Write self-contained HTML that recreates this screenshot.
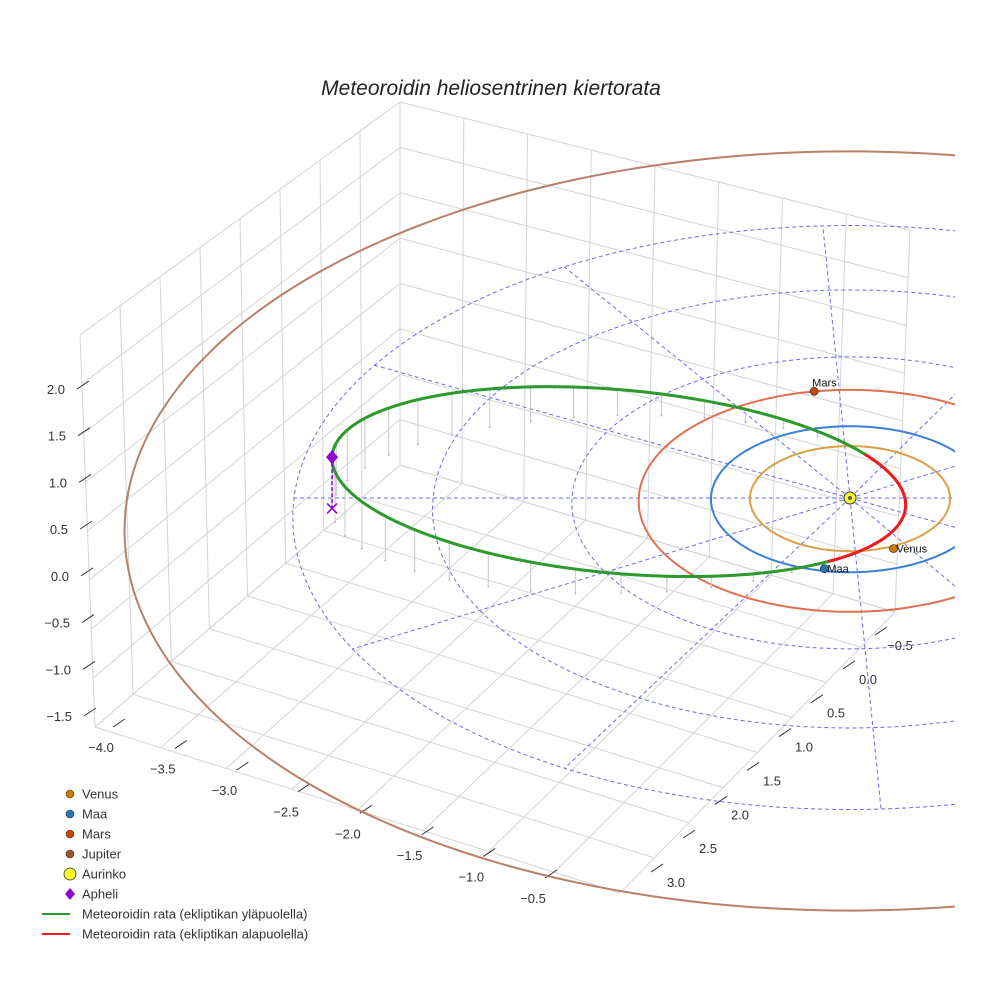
<!DOCTYPE html>
<html><head><meta charset="utf-8"><style>
body{margin:0;background:#fff;}
svg{display:block;font-family:"Liberation Sans",sans-serif;}
</style></head><body>
<svg id="chart" width="984" height="984" viewBox="0 0 984 984" xmlns="http://www.w3.org/2000/svg">
<defs><clipPath id="clip"><rect x="0" y="0" width="955" height="984"/></clipPath></defs>
<rect width="984" height="984" fill="#fff"/>
<text x="491" y="95" text-anchor="middle" font-size="21" font-style="italic" fill="#222">Meteoroidin heliosentrinen kiertorata</text>
<g id="box"></g>
<g id="ticks"></g>
<g id="plot" clip-path="url(#clip)"></g>
<g id="legend"></g>
</svg>
<script>
// ---- data ----
const planetNames = ["Venus","Maa","Mars","Jupiter"];
const planetRadii = [0.72, 1.0, 1.52, 5.2];
const planetX = [0.63, 0.36, -1.03, null];
const planetY = [0.41, 0.90, -1.12, null];
const gridRadii = [1, 2, 3, 4];
const spokeAnglesDeg = [0,28,58,87,119,150,180,208,237,267,298,330];
const meteorPerihelion = [0.4];
const meteorAphelion = [3.72];
const meteorSemiMinor = [1.22];
const meteorTiltU = [0.145];
const meteorTiltV = [-0.03];
const meteorRotDeg = [-2.2];
const xTicks = [-4.0,-3.5,-3.0,-2.5,-2.0,-1.5,-1.0,-0.5];
const yTicks = [-0.5,0.0,0.5,1.0,1.5,2.0,2.5,3.0];
const zTicks = [2.0,1.5,1.0,0.5,0.0,-0.5,-1.0,-1.5];

// ---- projection ----
const NS="http://www.w3.org/2000/svg";
const CX=850, CY=498, A=139, B=73, K=95, PHI=32.6*Math.PI/180, PERSP=0.0167;
const cP=Math.cos(PHI), sP=Math.sin(PHI);
function projUV(u,v,z){
  const s=1+PERSP*v;
  return [CX + A*u*s, CY + (B*v - K*z)*s];
}
function proj(x,y,z){
  const u=x*cP - y*sP, v=x*sP + y*cP;
  return projUV(u,v,z);
}
function fromUV(u,v){return [u*cP+v*sP, -u*sP+v*cP];}
function el(tag,attrs,parent){const e=document.createElementNS(NS,tag);for(const k in attrs)e.setAttribute(k,attrs[k]);parent.appendChild(e);return e;}
function pathFrom(pts){return pts.map((p,i)=>(i?'L':'M')+p[0].toFixed(1)+' '+p[1].toFixed(1)).join(' ');}

// ---- box (perspective walls) ----
const box=document.getElementById('box');
function lerp(a,b,t){return [a[0]+(b[0]-a[0])*t,a[1]+(b[1]-a[1])*t];}
function quadGrid(c,nu,nv){
  for(let i=0;i<=nu;i++){const t=i/nu;const a=lerp(c[0],c[1],t),b=lerp(c[3],c[2],t);
    const l=el('line',{x1:a[0],y1:a[1],x2:b[0],y2:b[1],stroke:'#d4d4d4','stroke-width':1},box);
    
    }
  for(let j=0;j<=nv;j++){const t=j/nv;const a=lerp(c[0],c[3],t),b=lerp(c[1],c[2],t);
    const l=el('line',{x1:a[0],y1:a[1],x2:b[0],y2:b[1],stroke:'#d4d4d4','stroke-width':1},box);
    
    }
}
const LTF=[80,335],LTB=[400,102],LBB=[400,465],LBF=[95,727],RTB=[910,230],RBB=[895,612],FR=[620,893];
quadGrid([LTF,LTB,LBB,LBF],8,8);
quadGrid([LTB,RTB,RBB,LBB],8,8);
quadGrid([LBF,LBB,RBB,FR],8,8);

// ---- ticks ----
const tk=document.getElementById('ticks');
function tickLabels(vals,p0,p1,dx,dy,anchor,name){
  vals.forEach((v,i)=>{const t=(v-vals[0])/(vals[vals.length-1]-vals[0]);const p=lerp(p0,p1,t);
    const tx=el('text',{x:p[0],y:p[1],'font-size':13,fill:'#333','text-anchor':anchor},tk);
    
    
    tx.textContent=(v<0?'\u2212':'')+Math.abs(v).toFixed(1);
    const ln=el('line',{x1:p[0]+dx,y1:p[1]-5+dy,x2:p[0]+dx+12,y2:p[1]-5+dy-8,stroke:'#333','stroke-width':1},tk);
    
    
  });
}
tickLabels(xTicks,[101,752],[533,903],12,-20,'middle','x-tick-label');
tickLabels(yTicks,[900,650],[676,887],-25,-10,'middle','y-tick-label');
tickLabels(zTicks,[65,394],[72,721],12,0,'end','z-tick-label');

// ---- plot ----
const plot=document.getElementById('plot');
gridRadii.forEach(r=>{const pts=[];for(let k=0;k<=200;k++){const a=k/200*2*Math.PI;pts.push(proj(r*Math.cos(a),r*Math.sin(a),0));}
  const p=el('path',{d:pathFrom(pts),fill:'none',stroke:'#6a6af0','stroke-width':1,'stroke-dasharray':'4 3'},plot);
  
  });
spokeAnglesDeg.forEach(d=>{const a=d*Math.PI/180;const q=projUV(4*Math.cos(a),4*Math.sin(a),0),o=projUV(0,0,0);
  const l=el('line',{x1:o[0],y1:o[1],x2:q[0],y2:q[1],stroke:'#6a6af0','stroke-width':1,'stroke-dasharray':'4 3'},plot);
  
  });
const orbitColors=['#d9a048','#3a7fd8','#e07050','#b88068'];
planetRadii.forEach((r,i)=>{const pts=[];for(let k=0;k<=240;k++){const a=k/240*2*Math.PI;pts.push(proj(r*Math.cos(a),r*Math.sin(a),0));}
  const p=el('path',{d:pathFrom(pts),fill:'none',stroke:orbitColors[i],'stroke-width':2},plot);
  
  });
const q=meteorPerihelion[0],Q=meteorAphelion[0],a=(q+Q)/2,b=meteorSemiMinor[0],cu=-(a-q);
const rot=meteorRotDeg[0]*Math.PI/180, cR=Math.cos(rot), sR=Math.sin(rot);
function meteorPoint(u0,v0){
  const z=-meteorTiltU[0]*u0 + meteorTiltV[0]*v0;
  const u=u0*cR - v0*sR, v=u0*sR + v0*cR;
  const xy=fromUV(u,v);return [xy[0],xy[1],z];
}
const mpts=[];
for(let k=0;k<=360;k++){const t=k/360*2*Math.PI;mpts.push(meteorPoint(cu - a*Math.cos(t), b*Math.sin(t)));}
mpts.forEach((p,k)=>{if(k%9!==0||p[2]<=0.02)return;const s=proj(p[0],p[1],p[2]),g=proj(p[0],p[1],0);
  const l=el('line',{x1:s[0],y1:s[1],x2:g[0],y2:g[1],stroke:'#c8c8c8','stroke-width':1},plot);
  
  
  const d=el('circle',{cx:g[0],cy:g[1],r:1,fill:'#bbb'},plot);
  
  });
for(let k=0;k<360;k++){const p1=mpts[k],p2=mpts[k+1];const s1=proj(...p1),s2=proj(...p2);
  const above=(p1[2]+p2[2])/2>=0;
  const l=el('line',{x1:s1[0],y1:s1[1],x2:s2[0],y2:s2[1],stroke:above?'#2e9a2e':'#ee1c1c','stroke-width':3,'stroke-linecap':'round'},plot);
  
  }
const aph=meteorPoint(-Q,0);
const ap=proj(aph[0],aph[1],aph[2]),ag=proj(aph[0],aph[1],0);
const al=el('line',{x1:ap[0],y1:ap[1],x2:ag[0],y2:ag[1],stroke:'#9400d3','stroke-width':1.5,'stroke-dasharray':'4 2'},plot);


const ax=el('path',{d:`M${ag[0]-5} ${ag[1]-5}L${ag[0]+5} ${ag[1]+5}M${ag[0]+5} ${ag[1]-5}L${ag[0]-5} ${ag[1]+5}`,stroke:'#9400d3','stroke-width':1.5},plot);


const ad=el('path',{d:`M${ap[0]} ${ap[1]-7}L${ap[0]+6} ${ap[1]}L${ap[0]} ${ap[1]+7}L${ap[0]-6} ${ap[1]}Z`,fill:'#9400d3'},plot);


const sp=proj(0,0,0);
const sun=el('circle',{cx:sp[0],cy:sp[1],r:6,fill:'#ffff22',stroke:'#333','stroke-width':1},plot);


const sun2=el('circle',{cx:sp[0],cy:sp[1],r:2,fill:'#557'},plot);


const planetColors=['#cc7a00','#1f77b4','#cc4400','#a0522d'];
planetNames.forEach((n,i)=>{if(planetX[i]===null)return;const p=proj(planetX[i],planetY[i],0);
  const c=el('circle',{cx:p[0],cy:p[1],r:4,fill:planetColors[i],stroke:'#333','stroke-width':0.7},plot);
  
  
  const t=el('text',{x:p[0]+(i===2?-2:3),y:p[1]+(i===2?-5:4),'font-size':11,fill:'#111'},plot);
  
  
  t.textContent=n;});

// ---- legend ----
const lg=document.getElementById('legend');
const legendItems=[['Venus','dot','#cc7a00'],['Maa','dot','#1f77b4'],['Mars','dot','#cc4400'],['Jupiter','dot','#a0522d'],['Aurinko','sun','#ffff22'],['Apheli','diamond','#9400d3'],['Meteoroidin rata (ekliptikan yläpuolella)','line','#2e9a2e'],['Meteoroidin rata (ekliptikan alapuolella)','line','#ee1c1c']];
legendItems.forEach((it,i)=>{const y=794+i*20;const g=el('g',{},lg);
  
  
  if(it[1]==='dot')el('circle',{cx:70,cy:y,r:4,fill:it[2],stroke:'#333','stroke-width':0.6},g);
  else if(it[1]==='sun')el('circle',{cx:70,cy:y,r:6,fill:it[2],stroke:'#333','stroke-width':0.8},g);
  else if(it[1]==='diamond')el('path',{d:`M70 ${y-6}L75 ${y}L70 ${y+6}L65 ${y}Z`,fill:it[2]},g);
  else el('line',{x1:42,y1:y,x2:70,y2:y,stroke:it[2],'stroke-width':2},g);
  const t=el('text',{x:82,y:y+4.5,'font-size':13,fill:'#333'},g);t.textContent=it[0];});
</script>
</body></html>
